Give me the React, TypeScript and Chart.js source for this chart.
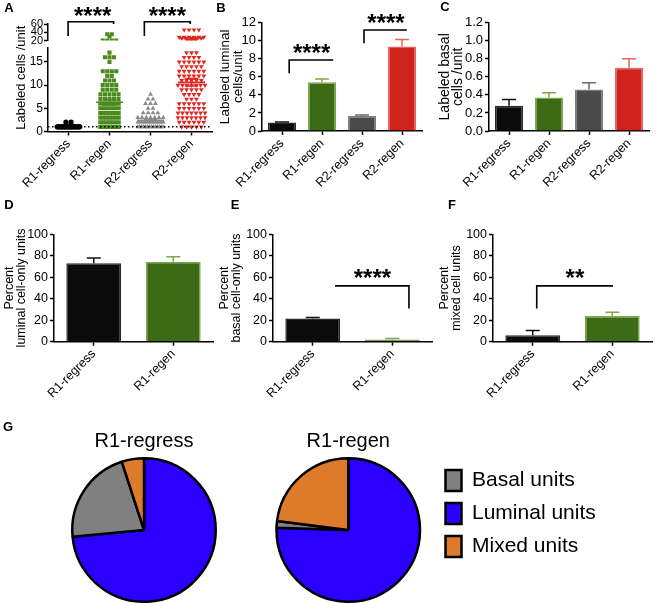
import React, { useEffect, useRef } from 'react';
import { Chart, registerables } from 'chart.js';

Chart.register(...registerables);

const FONT = "'Liberation Sans', Arial, Helvetica, sans-serif";
Chart.defaults.font.family = FONT;
Chart.defaults.color = '#000';

// ---------------- Panel A (scatter, broken axis) ----------------
const aCategories = ['R1-regress', 'R1-regen', 'R2-regress', 'R2-regen'];
const aR1RegressValues = [1, 2];
const aR1RegressCounts = [26, 2];
const aR1RegenValues = [1, 2, 3, 4, 5, 6, 7, 8, 9, 10, 11, 12, 13, 15, 16, 17, 20, 30, 35];
const aR1RegenCounts = [6, 7, 7, 6, 6, 6, 5, 5, 4, 4, 3, 2, 4, 1, 3, 1, 4, 1, 2];
const aR2RegressValues = [1, 2, 3, 4, 5, 6, 7, 8];
const aR2RegressCounts = [14, 12, 7, 4, 2, 3, 2, 1];
const aR2RegenValues = [1, 2, 3, 4, 5, 6, 7, 8, 9, 10, 11, 12, 13, 14, 15, 16, 17, 20, 22, 25, 28, 46];
const aR2RegenCounts = [5, 6, 7, 7, 6, 6, 3, 4, 5, 7, 5, 6, 6, 5, 6, 4, 3, 2, 3, 5, 6, 4];
const aMeans = [1.1, 6.3, 2.4, 10.6];
const aSems = [0.05, 0.6, 0.2, 0.8];
const aDottedLevel = 1;
const aLowerRange = [0, 18];
const aUpperRange = [20, 60];
const aUpperTicks = [20, 40, 60];
const aLowerTicks = [0, 5, 10, 15];

// ---------------- Panels B / C ----------------
const bcCategories = ['R1-regress', 'R1-regen', 'R2-regress', 'R2-regen'];
const bValues = [0.95, 5.4, 1.65, 9.35];
const bErrors = [0.05, 0.35, 0.12, 0.8];
const cValues = [0.28, 0.37, 0.46, 0.7];
const cErrors = [0.07, 0.055, 0.075, 0.1];

// ---------------- Panels D / E / F ----------------
const defCategories = ['R1-regress', 'R1-regen'];
const dValues = [73, 74.5];
const dErrors = [5, 4.5];
const eValues = [21.5, 2];
const eErrors = [1, 1];
const fValues = [6, 24];
const fErrors = [4.5, 3.5];

// ---------------- Panel G (pies) ----------------
const pieLabels = ['Luminal units', 'Basal units', 'Mixed units'];
const pieRegress = [73.5, 21.5, 5];
const pieRegen = [75.5, 1.5, 23];
const legendOrder = ['Basal units', 'Luminal units', 'Mixed units'];

// ---------------- significance annotations (data units) ----------------
const aSig = [
  { x1: 0.99, x2: 2.1, y: 65.6, y1: 30.9, y2: 60, label: '****', lx: 1.59, ly: 94, yAxis: 'y2' },
  { x1: 2.85, x2: 3.97, y: 65.6, y1: 30.9, y2: 60, label: '****', lx: 3.41, ly: 94, yAxis: 'y2' },
];
const bSig = [
  { x1: 0.18, x2: 1.28, y: 7.87, y1: 6.39, y2: 7.87, label: '****', lx: 0.74, ly: 9.34 },
  { x1: 2.05, x2: 3.12, y: 11.19, y1: 9.72, y2: 11.19, label: '****', lx: 2.6, ly: 12.66 },
];
const eSig = [{ x1: 0.28, x2: 1.21, y: 52, y1: 52, y2: 31, label: '****', lx: 0.75, ly: 65 }];
const fSig = [{ x1: 0.05, x2: 1.01, y: 52, y1: 31, y2: 52, label: '**', lx: 0.53, ly: 65 }];

// ---------------- styles ----------------
const aColors = ['#000000', '#4b8b1e', '#8a8a8a', '#e3261f'];
const barFill = ['#0b0b0b', '#3d6a15', '#4a4a4a', '#d0231c'];
const barBorder = ['#2a2a2a', '#7aa84a', '#7c7c7c', '#e8625c'];
const errColors = ['#111111', '#7aa84a', '#6a6a6a', '#e8625c'];
const pieColors = ['#2b00ff', '#808080', '#de7b2b'];
const STAR_SIZE = 24;
const CAP = 7;
const MEAN_HALF = 0.33;
const SEM_HALF = 0.16;
const swarmStyle = [
  { step: 0.125, width: 0.55 },
  { step: 0.11, width: 0.45 },
  { step: 0.12, width: 0.62 },
  { step: 0.12, width: 0.66 },
];

function swarm(values: number[], counts: number[], center: number, st: { step: number; width: number }) {
  const pts: { x: number; y: number }[] = [];
  values.forEach((v, k) => {
    const n = counts[k];
    const step = n > 1 ? Math.min(st.step, st.width / (n - 1)) : 0;
    for (let i = 0; i < n; i++) pts.push({ x: center + (i - (n - 1) / 2) * step, y: v });
  });
  return pts;
}

function letterPlugin(text: string, x: number, y: number) {
  return {
    id: 'letter',
    afterDraw(chart: any) {
      const ctx = chart.ctx;
      ctx.save();
      ctx.font = `bold 13px ${FONT}`;
      ctx.fillStyle = '#000';
      ctx.textAlign = 'center';
      ctx.textBaseline = 'middle';
      ctx.fillText(text, x, y);
      ctx.restore();
    },
  };
}

function bracketPlugin(items: any[]) {
  return {
    id: 'brackets',
    afterDraw(chart: any) {
      const ctx = chart.ctx;
      const xs = chart.scales.x;
      ctx.save();
      ctx.strokeStyle = '#000';
      ctx.fillStyle = '#000';
      ctx.lineWidth = 1.6;
      items.forEach((b) => {
        const ys = chart.scales[b.yAxis || 'y'];
        const x1 = xs.getPixelForValue(b.x1);
        const x2 = xs.getPixelForValue(b.x2);
        const y = ys.getPixelForValue(b.y);
        const y1 = ys.getPixelForValue(b.y1);
        const y2 = ys.getPixelForValue(b.y2);
        ctx.beginPath();
        ctx.moveTo(x1, y1);
        ctx.lineTo(x1, y);
        ctx.lineTo(x2, y);
        ctx.lineTo(x2, y2);
        ctx.stroke();
        ctx.font = `bold ${STAR_SIZE}px ${FONT}`;
        ctx.textAlign = 'center';
        ctx.textBaseline = 'alphabetic';
        ctx.fillText(b.label, xs.getPixelForValue(b.lx), ys.getPixelForValue(b.ly) + STAR_SIZE * 0.58);
      });
      ctx.restore();
    },
  };
}

function errorBarPlugin(errors: number[], colors: string[]) {
  return {
    id: 'errorBars',
    afterDatasetsDraw(chart: any) {
      const ctx = chart.ctx;
      const meta = chart.getDatasetMeta(0);
      const ys = chart.scales.y;
      const vals = chart.data.datasets[0].data;
      ctx.save();
      ctx.lineWidth = 1.5;
      meta.data.forEach((bar: any, i: number) => {
        const base = ys.getPixelForValue(vals[i]);
        const top = ys.getPixelForValue(vals[i] + errors[i]);
        ctx.strokeStyle = colors[i];
        ctx.beginPath();
        ctx.moveTo(bar.x, base);
        ctx.lineTo(bar.x, top);
        ctx.moveTo(bar.x - CAP, top);
        ctx.lineTo(bar.x + CAP, top);
        ctx.stroke();
      });
      ctx.restore();
    },
  };
}

const tickGrid = { display: true, drawOnChartArea: false, tickLength: 4, tickWidth: 1.5, tickColor: '#000', offset: false };
const axisBorder = { color: '#000', width: 1.5 };

function buildA() {
  const groups = [
    { values: aR1RegressValues, counts: aR1RegressCounts, style: 'circle', radius: 2.6, rot: 0 },
    { values: aR1RegenValues, counts: aR1RegenCounts, style: 'rect', radius: 2.9, rot: 0 },
    { values: aR2RegressValues, counts: aR2RegressCounts, style: 'triangle', radius: 2.8, rot: 0 },
    { values: aR2RegenValues, counts: aR2RegenCounts, style: 'triangle', radius: 2.8, rot: 180 },
  ];
  const datasets: any[] = [];
  datasets.push({
    showLine: true,
    data: [{ x: 0.5, y: aDottedLevel }, { x: 4.5, y: aDottedLevel }],
    borderColor: '#000', borderWidth: 1.5, borderDash: [1.5, 2.5], pointRadius: 0, yAxisID: 'y',
  });
  aMeans.forEach((m, i) => {
    const c = i + 1;
    const s = aSems[i];
    datasets.push({
      showLine: true, spanGaps: false,
      data: [
        { x: c - MEAN_HALF, y: m }, { x: c + MEAN_HALF, y: m }, { x: c, y: null },
        { x: c - SEM_HALF, y: m + s }, { x: c + SEM_HALF, y: m + s }, { x: c, y: null },
        { x: c - SEM_HALF, y: m - s }, { x: c + SEM_HALF, y: m - s }, { x: c, y: null },
        { x: c, y: m - s }, { x: c, y: m + s },
      ],
      borderColor: aColors[i], borderWidth: 1.6, pointRadius: 0, yAxisID: 'y',
    });
  });
  groups.forEach((g, i) => {
    const pts = swarm(g.values, g.counts, i + 1, swarmStyle[i]);
    const common = {
      pointStyle: g.style, pointRadius: g.radius, pointRotation: g.rot,
      pointBackgroundColor: aColors[i], pointBorderColor: aColors[i], pointBorderWidth: 0,
      backgroundColor: aColors[i], borderColor: aColors[i],
    };
    datasets.push({ ...common, data: pts.filter((p) => p.y <= aLowerRange[1]), yAxisID: 'y' });
    datasets.push({ ...common, data: pts.filter((p) => p.y >= aUpperRange[0]), yAxisID: 'y2' });
  });

  const hiddenAxis = (extra: any) => ({
    type: 'linear', position: 'left', min: 0, max: 1,
    ticks: { display: false }, grid: { display: false }, border: { display: false }, ...extra,
  });

  return {
    type: 'scatter',
    data: { datasets },
    options: {
      responsive: false, animation: false, events: [],
      layout: { padding: { top: 24, right: 3, left: 0, bottom: 0 } },
      plugins: { legend: { display: false }, tooltip: { enabled: false } },
      scales: {
        x: {
          type: 'linear', position: 'bottom', min: 0.5, max: 4.5,
          afterBuildTicks: (s: any) => { s.ticks = aCategories.map((_, i) => ({ value: i + 1 })); },
          ticks: {
            callback: (v: any) => aCategories[Math.round(v) - 1], autoSkip: false,
            minRotation: 45, maxRotation: 45, font: { size: 12.5 }, color: '#000', padding: 1,
          },
          grid: tickGrid, border: axisBorder,
          afterFit: (s: any) => { s.height = 60.5; },
        },
        yt: hiddenAxis({
          weight: 10,
          title: { display: true, text: 'Labeled cells /unit', font: { size: 13 }, color: '#000', padding: { top: 14, bottom: 0 } },
          afterFit: (s: any) => { s.width = 29; },
        }),
        y2: {
          type: 'linear', position: 'left', stack: 'a', stackWeight: 16.5, weight: 3,
          min: aUpperRange[0], max: aUpperRange[1],
          afterBuildTicks: (s: any) => { s.ticks = aUpperTicks.map((v) => ({ value: v })); },
          ticks: { autoSkip: false, font: { size: 11 }, color: '#000', padding: 1 },
          grid: tickGrid, border: axisBorder,
          afterFit: (s: any) => { s.width = 19; },
        },
        ygap: hiddenAxis({ stack: 'a', stackWeight: 7.5, weight: 2, afterFit: (s: any) => { s.width = 19; } }),
        y: {
          type: 'linear', position: 'left', stack: 'a', stackWeight: 83.5, weight: 1,
          min: aLowerRange[0], max: aLowerRange[1],
          afterBuildTicks: (s: any) => { s.ticks = aLowerTicks.map((v) => ({ value: v })); },
          ticks: { autoSkip: false, font: { size: 12 }, color: '#000', padding: 1 },
          grid: tickGrid, border: axisBorder,
          afterFit: (s: any) => { s.width = 19; },
        },
      },
    },
    plugins: [bracketPlugin(aSig), letterPlugin('A', 9, 8)],
  };
}

function barChart(p: any) {
  return {
    type: 'bar',
    data: {
      labels: p.labels,
      datasets: [{
        data: p.values, backgroundColor: barFill.slice(0, p.values.length), borderColor: barBorder.slice(0, p.values.length),
        borderWidth: 1.5, barPercentage: p.barPct, categoryPercentage: 1,
      }],
    },
    options: {
      responsive: false, animation: false, events: [],
      layout: { padding: p.pad },
      plugins: { legend: { display: false }, tooltip: { enabled: false } },
      scales: {
        x: {
          offset: true, grid: tickGrid, border: axisBorder,
          ticks: { color: '#000', font: { size: 12.5 }, minRotation: 45, maxRotation: 45, padding: 1, autoSkip: false },
          afterFit: (s: any) => { s.height = p.xHeight; },
        },
        y: {
          min: p.min, max: p.max,
          ticks: {
            stepSize: p.step, autoSkip: false, color: '#000', font: { size: p.tickSize }, padding: 2,
            callback: (v: any) => Number(v).toFixed(p.decimals),
          },
          grid: tickGrid, border: axisBorder,
          title: { display: true, text: p.title, color: '#000', font: { size: p.titleSize, lineHeight: p.titleLH }, padding: { top: p.titlePad, bottom: 0 } },
          afterFit: (s: any) => { s.width = p.yWidth; },
        },
      },
    },
    plugins: [
      errorBarPlugin(p.errors, errColors.slice(0, p.values.length)),
      bracketPlugin(p.sig || []),
      letterPlugin(p.letter, p.lx, p.ly),
    ],
  };
}

const buildB = () => barChart({
  labels: bcCategories, values: bValues, errors: bErrors, min: 0, max: 12, step: 2, decimals: 0,
  title: ['Labeled luminal', 'cells/unit'], titleSize: 13.5, titleLH: 0.96, titlePad: 6.5, tickSize: 13,
  yWidth: 50, xHeight: 61, pad: { top: 22.7, right: 6, left: 0, bottom: 0 }, barPct: 0.7,
  sig: bSig, letter: 'B', lx: 9, ly: 8,
});
const buildC = () => barChart({
  labels: bcCategories, values: cValues, errors: cErrors, min: 0, max: 1.2, step: 0.2, decimals: 1,
  title: ['Labeled basal', 'cells /unit'], titleSize: 14, titleLH: 0.93, titlePad: 6.5, tickSize: 13,
  yWidth: 57, xHeight: 61, pad: { top: 22.7, right: 7, left: 0, bottom: 0 }, barPct: 0.7,
  sig: [], letter: 'C', lx: 13, ly: 7,
});
const buildD = () => barChart({
  labels: defCategories, values: dValues, errors: dErrors, min: 0, max: 100, step: 20, decimals: 0,
  title: ['Percent', 'luminal cell-only units'], titleSize: 12.5, titleLH: 0.94, titlePad: 4.1, tickSize: 12.5,
  yWidth: 54, xHeight: 78.3, pad: { top: 42.3, right: 3, left: 0, bottom: 0 }, barPct: 0.69,
  sig: [], letter: 'D', lx: 9, ly: 13,
});
const buildE = () => barChart({
  labels: defCategories, values: eValues, errors: eErrors, min: 0, max: 100, step: 20, decimals: 0,
  title: ['Percent', 'basal cell-only units'], titleSize: 12.5, titleLH: 0.94, titlePad: 3.1, tickSize: 12.5,
  yWidth: 57, xHeight: 78.3, pad: { top: 42.3, right: 4, left: 0, bottom: 0 }, barPct: 0.69,
  sig: eSig, letter: 'E', lx: 19, ly: 13,
});
const buildF = () => barChart({
  labels: defCategories, values: fValues, errors: fErrors, min: 0, max: 100, step: 20, decimals: 0,
  title: ['Percent', 'mixed cell units'], titleSize: 12.5, titleLH: 0.94, titlePad: 3.1, tickSize: 12.5,
  yWidth: 57, xHeight: 78.3, pad: { top: 42.3, right: 4, left: 0, bottom: 0 }, barPct: 0.69,
  sig: fSig, letter: 'F', lx: 16, ly: 13,
});

function pieChart(title: string, values: number[], withLegend: boolean, pad: any, titlePadTop: number, extraPlugins: any[]) {
  return {
    type: 'pie',
    data: {
      labels: pieLabels,
      datasets: [{ data: values, backgroundColor: pieColors, borderColor: '#000', borderWidth: 2.5 }],
    },
    options: {
      responsive: false, animation: false, events: [],
      layout: { padding: pad },
      plugins: {
        tooltip: { enabled: false },
        title: {
          display: true, text: title, fullSize: false, color: '#000',
          font: { size: 20, weight: 'normal', lineHeight: 1.2 }, padding: { top: titlePadTop, bottom: 4 },
        },
        legend: {
          display: withLegend, position: 'right', align: 'center', fullSize: true,
          labels: {
            color: '#000', font: { size: 21 }, boxWidth: 16, boxHeight: 21, padding: 12,
            sort: (a: any, b: any) => legendOrder.indexOf(a.text) - legendOrder.indexOf(b.text),
          },
        },
      },
    },
    plugins: extraPlugins,
  };
}

const buildG1 = () => pieChart('R1-regress', pieRegress, false, { left: 60, right: 0, top: 0, bottom: 0 }, 15, [letterPlugin('G', 8, 13)]);
const buildG2 = () => pieChart('R1-regen', pieRegen, true, { left: 0, right: 0, top: 0, bottom: 0 }, 5, []);

function ChartBox({ left, top, width, height, build }: any) {
  const ref = useRef<HTMLCanvasElement>(null);
  useEffect(() => {
    const chart = new Chart(ref.current as HTMLCanvasElement, build());
    return () => chart.destroy();
  }, []);
  return (
    <canvas
      ref={ref}
      width={width}
      height={height}
      style={{ position: 'absolute', left, top, width, height }}
    />
  );
}

export default function App() {
  return (
    <div style={{ position: 'absolute', left: 0, top: 0, width: 656, height: 603, overflow: 'hidden', background: '#fff' }}>
      <ChartBox left={0} top={0} width={216} height={192} build={buildA} />
      <ChartBox left={212} top={0} width={216} height={192} build={buildB} />
      <ChartBox left={432} top={0} width={224} height={192} build={buildC} />
      <ChartBox left={0} top={192} width={216} height={228} build={buildD} />
      <ChartBox left={216} top={192} width={220} height={228} build={buildE} />
      <ChartBox left={436} top={192} width={220} height={228} build={buildF} />
      <ChartBox left={0} top={414} width={228} height={189} build={buildG1} />
      <ChartBox left={263} top={424} width={341} height={179} build={buildG2} />
    </div>
  );
}
